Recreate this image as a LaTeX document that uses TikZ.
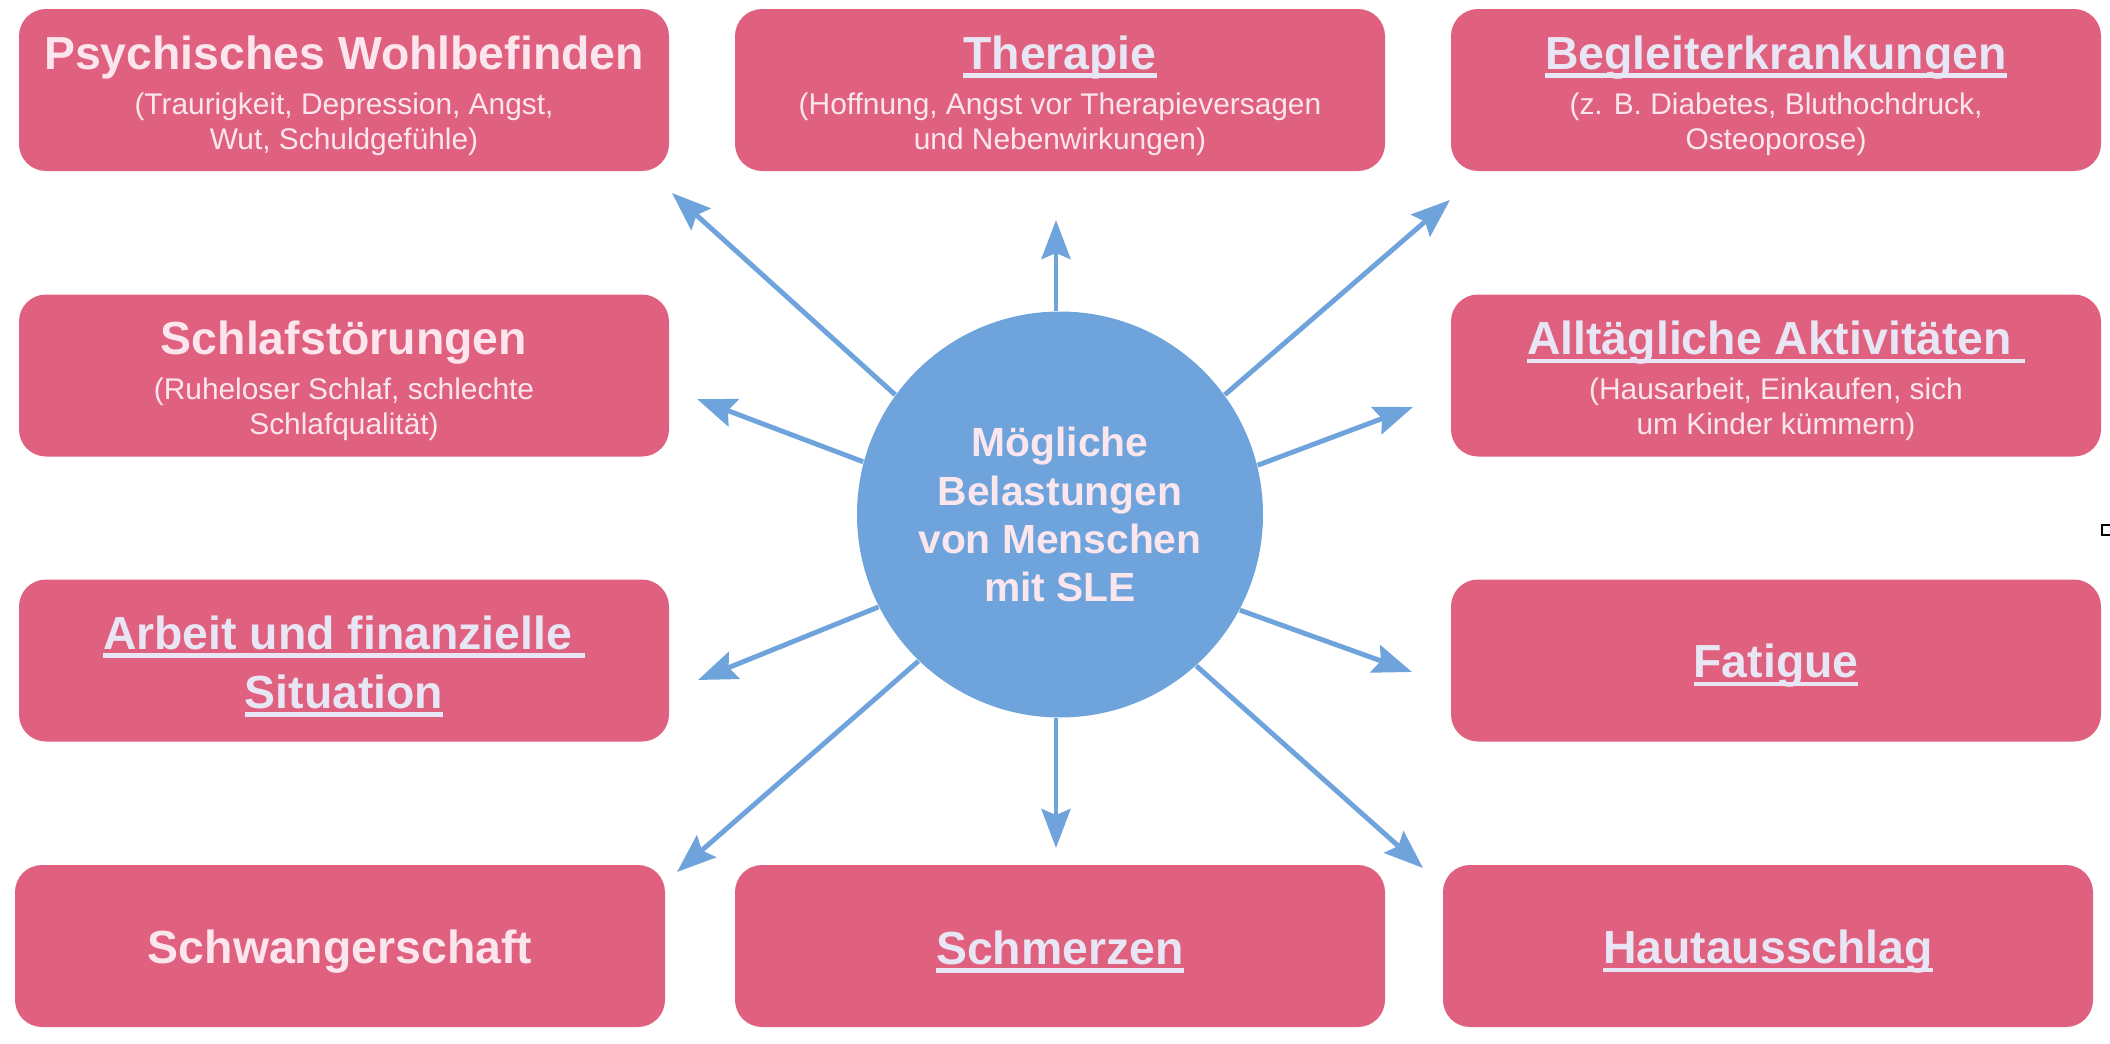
\documentclass[tikz,border=0pt]{standalone}
\usepackage{fontspec}
\setmainfont{Liberation Sans}
\usepackage{xcolor}
\usetikzlibrary{arrows.meta}

\definecolor{boxpink}{HTML}{E0617F}
\definecolor{circblue}{HTML}{6FA3DC}
\definecolor{txtpink}{HTML}{FBE6EE}
\definecolor{txtlila}{HTML}{E8E6F4}

\newcommand{\ulbox}[1]{\leavevmode\setbox0\hbox{#1}\rlap{\rule[-2.4pt]{\wd0}{1.2pt}}\box0}
\newcommand{\titel}[1]{{\fontsize{13.2}{16.8}\selectfont\bfseries\rule{0pt}{12.7pt}#1}}
\newcommand{\ultitel}[1]{{\color{txtlila}\titel{\ulbox{#1}}}}

\begin{document}
\begin{tikzpicture}[x=0.1mm, y=-0.1mm,
    box/.style={rectangle, rounded corners=2.7mm, fill=boxpink, text=txtpink,
        minimum width=65mm, minimum height=16.2mm, inner sep=0pt, align=center,
        font=\fontsize{8.5}{10}\selectfont},
    mitte/.style={circle, fill=circblue, text=txtpink, minimum size=40.6mm,
        inner sep=0pt, align=center, font=\fontsize{11.6}{13.7}\selectfont\bfseries},
    pfeil/.style={draw=circblue, line width=1.4pt,
        -{Stealth[length=3.9mm, width=2.9mm, inset=0.6mm]}}]
    \useasboundingbox (0,0) rectangle (2110,1044);

    % center
    \node[mitte] (sle) at (1060,514.5) {M\"ogliche\\Belastungen\\von Menschen\\mit SLE};

    % boxes
    \node[box] (psy) at (344,90) {\titel{Psychisches Wohlbefinden}\\[2.8pt](Traurigkeit, Depression, Angst,\\Wut, Schuldgef\"uhle)};
    \node[box] (ther) at (1060,90) {\ultitel{Therapie}\\[2.8pt](Hoffnung, Angst vor Therapieversagen\\und Nebenwirkungen)};
    \node[box] (begl) at (1776,90) {\ultitel{Begleiterkrankungen}\\[2.8pt](z. B. Diabetes, Bluthochdruck,\\Osteoporose)};
    \node[box] (schlaf) at (344,375.5) {\titel{Schlafst\"orungen}\\[2.8pt](Ruheloser Schlaf, schlechte\\Schlafqualit\"at)};
    \node[box] (alltag) at (1776,375.5) {\ultitel{Allt\"agliche Aktivit\"aten\ }\\[2.8pt](Hausarbeit, Einkaufen, sich\\um Kinder k\"ummern)};
    \node[box, font=\fontsize{13.2}{16.8}\selectfont] (arbeit) at (344,660.5) {\ultitel{Arbeit und finanzielle\ }\\\ultitel{Situation}};
    \node[box] (fat) at (1776,660.5) {\ultitel{Fatigue}};
    \node[box] (schw) at (340,946) {\titel{Schwangerschaft}};
    \node[box] (schm) at (1060,946) {\ultitel{Schmerzen}};
    \node[box] (haut) at (1768,946) {\ultitel{Hautausschlag}};

    % arrow tips
    \coordinate (tA) at (1056,220);
    \coordinate (tB) at (672,193);
    \coordinate (tC) at (1450,200);
    \coordinate (tD) at (697,399);
    \coordinate (tE) at (1413,407);
    \coordinate (tF) at (698,680);
    \coordinate (tG) at (1412,672);
    \coordinate (tH) at (677,872);
    \coordinate (tI) at (1056,848);
    \coordinate (tJ) at (1423,868);

    \draw[pfeil] (sle.north -| tA) -- (tA);
    \draw[pfeil] (sle.144) -- (tB);
    \draw[pfeil] (sle.36) -- (tC);
    \draw[pfeil] (sle.165.3) -- (tD);
    \draw[pfeil] (sle.14.6) -- (tE);
    \draw[pfeil] (sle.207.9) -- (tF);
    \draw[pfeil] (sle.332.3) -- (tG);
    \draw[pfeil] (sle.226.1) -- (tH);
    \draw[pfeil] (sle.south -| tI) -- (tI);
    \draw[pfeil] (sle.312.5) -- (tJ);

    % stray mark at the right edge
    \draw[line width=0.4pt] (2102,525) rectangle (2116,535);
\end{tikzpicture}
\end{document}
